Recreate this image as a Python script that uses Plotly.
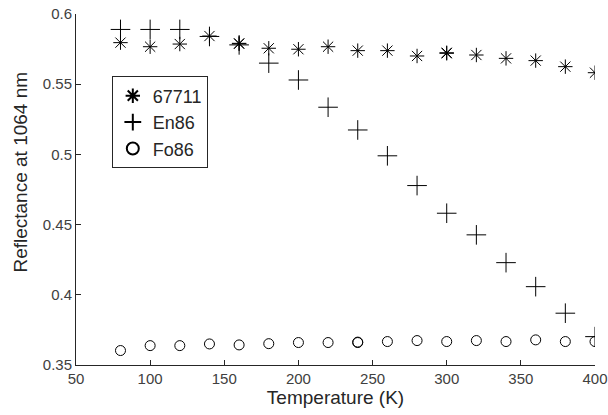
import plotly.graph_objects as go

temps = [80, 100, 120, 140, 160, 160, 180, 200, 220, 240, 260, 280, 300, 300, 320, 340, 360, 380, 400]
s67711 = [0.5796, 0.5767, 0.5786, 0.5843, 0.5791, 0.5788, 0.5756, 0.5749, 0.5767, 0.5739, 0.5739, 0.5701, 0.5724, 0.5720, 0.5708, 0.5684, 0.5668, 0.5625, 0.5582]

temps_en = [80, 100, 120, 140, 160, 180, 200, 220, 240, 260, 280, 300, 320, 340, 360, 380, 400]
en86 = [0.589, 0.589, 0.589, 0.584, 0.578, 0.565, 0.553, 0.5336, 0.5174, 0.499, 0.4778, 0.4581, 0.4427, 0.4229, 0.4058, 0.3869, 0.3702]

temps_fo = [80, 100, 120, 140, 160, 180, 200, 220, 240, 240, 260, 280, 300, 320, 340, 360, 380, 400]
fo86 = [0.3603, 0.3638, 0.3638, 0.365, 0.3643, 0.3652, 0.366, 0.366, 0.366, 0.3663, 0.3667, 0.3674, 0.3667, 0.3674, 0.3667, 0.3679, 0.3667, 0.3667]

x_ticks = [50, 100, 150, 200, 250, 300, 350, 400]
y_ticks = [0.35, 0.4, 0.45, 0.5, 0.55, 0.6]
y_tick_text = ["0.35", "0.4", "0.45", "0.5", "0.55", "0.6"]

x_title = "Temperature (K)"
y_title = "Reflectance at 1064 nm"

fig = go.Figure()
fig.add_trace(go.Scatter(x=temps, y=s67711, mode="markers", name="67711",
                         marker=dict(symbol="asterisk-open", size=12, color="black",
                                     line=dict(color="black", width=1))))
fig.add_trace(go.Scatter(x=temps_en, y=en86, mode="markers", name="En86",
                         marker=dict(symbol="cross-thin-open", size=14, color="black",
                                     line=dict(color="black", width=1))))
fig.add_trace(go.Scatter(x=temps_fo, y=fo86, mode="markers", name="Fo86",
                         marker=dict(symbol="circle-open", size=10, color="black",
                                     line=dict(color="black", width=1))))

axis_color = "#262626"
fig.update_layout(
    width=608, height=415,
    margin=dict(l=76, r=13, t=14, b=50, autoexpand=False),
    paper_bgcolor="white", plot_bgcolor="white",
    font=dict(family="Liberation Sans, Arial, sans-serif", color=axis_color, size=15),
    showlegend=True,
    legend=dict(x=0.069, y=0.822, xanchor="left", yanchor="top",
                bordercolor="#262626", borderwidth=1, bgcolor="white",
                font=dict(size=18, color="#262626"), tracegroupgap=0, itemsizing="constant",
                itemwidth=30),
    xaxis=dict(range=[50, 400], tickvals=x_ticks, ticks="inside", ticklen=5,
               tickcolor=axis_color, showline=True, linecolor=axis_color, linewidth=1,
               showgrid=False, zeroline=False, mirror=False, automargin=False,
               tickfont=dict(size=15, color="#404040"),
               title=dict(text=x_title, font=dict(size=19, color=axis_color), standoff=0)),
    yaxis=dict(range=[0.35, 0.6], tickvals=y_ticks, ticktext=y_tick_text, ticks="inside", ticklen=5,
               tickcolor=axis_color, showline=True, linecolor=axis_color, linewidth=1,
               showgrid=False, zeroline=False, mirror=False, automargin=False,
               tickfont=dict(size=15, color="#404040")),
    annotations=[dict(text=y_title, xref="paper", yref="paper", x=-0.106, y=0.551,
                      xanchor="center", yanchor="middle", textangle=-90, showarrow=False,
                      font=dict(size=19, color=axis_color))],
)

fig.write_html("out.html")
